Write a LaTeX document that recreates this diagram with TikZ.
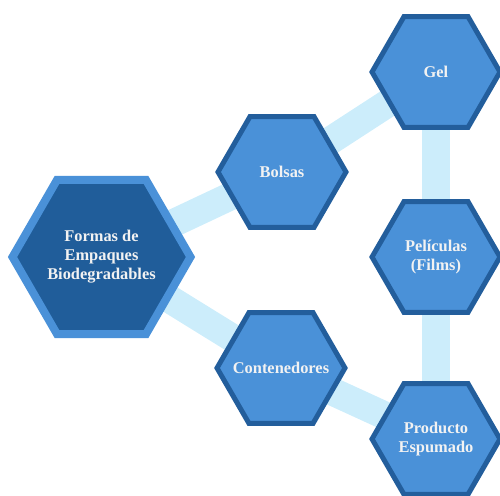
\documentclass[tikz,border=0pt]{standalone}
\usepackage{fontspec}
\setmainfont{Liberation Serif}
\usetikzlibrary{shapes.geometric}
\definecolor{bandc}{RGB}{204,237,251}
\definecolor{hexfill}{RGB}{74,145,216}
\definecolor{hexedge}{RGB}{35,94,156}
\definecolor{mainfill}{RGB}{32,93,154}
\definecolor{mainedge}{RGB}{74,145,216}
\definecolor{txt}{RGB}{242,242,242}
\tikzset{
  hextext/.style={text=txt, font=\bfseries\fontsize{12.3}{14.3}\selectfont, align=center, inner sep=0pt},
  hexbox/.style={regular polygon, regular polygon sides=6, inner sep=0pt, outer sep=0pt,
    minimum size=96pt, fill=hexfill, draw=hexedge, line width=3.75pt,
    label={[hextext]center:#1}},
  mainhex/.style={regular polygon, regular polygon sides=6, inner sep=0pt, outer sep=0pt,
    minimum size=133.5pt, fill=mainfill, draw=mainedge, line width=6pt,
    label={[hextext]center:#1}},
  band/.style={draw=bandc, line width=21pt}
}
\begin{document}
\begin{tikzpicture}[x=0.75pt,y=-0.75pt]
\useasboundingbox (0,0) rectangle (500,496);
\clip (0,0) rectangle (500,496);
\coordinate (cm) at (101.5,257);
\coordinate (cb) at (282,172);
\coordinate (cc) at (281,368);
\coordinate (cg) at (436,72);
\coordinate (cp) at (436,257);
\coordinate (ce) at (436,439);
\draw[band] (cm) -- (cb);
\draw[band] (cm) -- (cc);
\draw[band] (cb) -- (cg);
\draw[band] (cc) -- (ce);
\draw[band] (cg) -- (cp);
\draw[band] (cp) -- (ce);
\node[mainhex={Formas de\\Empaques\\Biodegradables}] (m) at (cm) {};
\node[hexbox={Bolsas}] (b) at (cb) {};
\node[hexbox={Contenedores}] (c) at (cc) {};
\node[hexbox={Gel}] (g) at (cg) {};
\node[hexbox={Películas\\(Films)}] (p) at (cp) {};
\node[hexbox={Producto\\Espumado}] (e) at (ce) {};
\end{tikzpicture}
\end{document}
